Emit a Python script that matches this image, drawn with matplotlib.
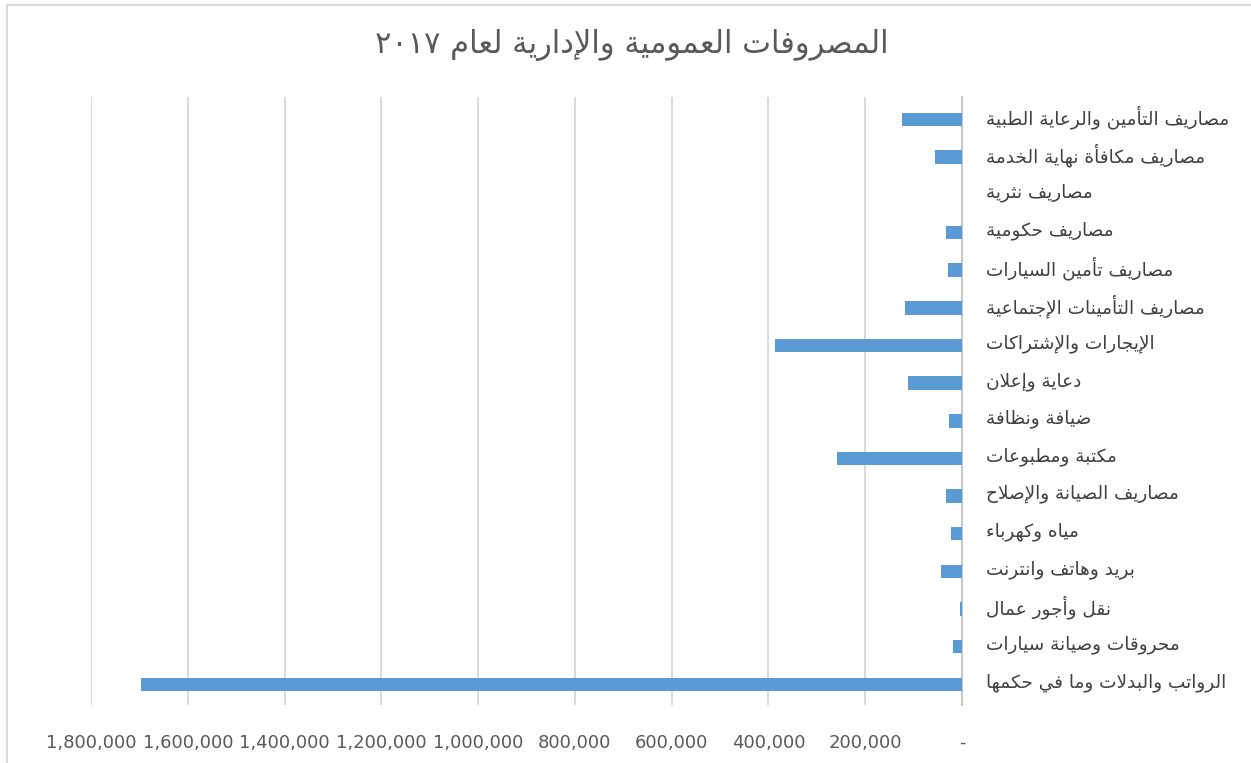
import re
import matplotlib
matplotlib.use("Agg")
import matplotlib.pyplot as plt
from matplotlib.lines import Line2D
from matplotlib.transforms import ScaledTranslation

# --- data (top to bottom, as in the chart) ---
categories = [
    "مصاريف التأمين والرعاية الطبية",
    "مصاريف مكافأة نهاية الخدمة",
    "مصاريف نثرية",
    "مصاريف حكومية",
    "مصاريف تأمين السيارات",
    "مصاريف التأمينات الإجتماعية",
    "الإيجارات والإشتراكات",
    "دعاية وإعلان",
    "ضيافة ونظافة",
    "مكتبة ومطبوعات",
    "مصاريف الصيانة والإصلاح",
    "مياه وكهرباء",
    "بريد وهاتف وانترنت",
    "نقل وأجور عمال",
    "محروقات وصيانة سيارات",
    "الرواتب والبدلات وما في حكمها",
]
values = [125000, 56000, 0, 34000, 28000, 118000, 386000, 112000,
          27000, 258000, 34000, 23000, 43000, 4000, 19000, 1696000]
xticks = [0, 200000, 400000, 600000, 800000, 1000000,
          1200000, 1400000, 1600000, 1800000]
title = "المصروفات العمومية والإدارية لعام ٢٠١٧"

# --- minimal arabic shaping (matplotlib has no bidi / shaping) ---
# letter -> (first presentation form, number of forms)
FORMS = {
    "ء": (0xFE80, 1), "آ": (0xFE81, 2), "أ": (0xFE83, 2), "ؤ": (0xFE85, 2),
    "إ": (0xFE87, 2), "ئ": (0xFE89, 4), "ا": (0xFE8D, 2), "ب": (0xFE8F, 4),
    "ة": (0xFE93, 2), "ت": (0xFE95, 4), "ث": (0xFE99, 4), "ج": (0xFE9D, 4),
    "ح": (0xFEA1, 4), "خ": (0xFEA5, 4), "د": (0xFEA9, 2), "ذ": (0xFEAB, 2),
    "ر": (0xFEAD, 2), "ز": (0xFEAF, 2), "س": (0xFEB1, 4), "ش": (0xFEB5, 4),
    "ص": (0xFEB9, 4), "ض": (0xFEBD, 4), "ط": (0xFEC1, 4), "ظ": (0xFEC5, 4),
    "ع": (0xFEC9, 4), "غ": (0xFECD, 4), "ف": (0xFED1, 4), "ق": (0xFED5, 4),
    "ك": (0xFED9, 4), "ل": (0xFEDD, 4), "م": (0xFEE1, 4), "ن": (0xFEE5, 4),
    "ه": (0xFEE9, 4), "و": (0xFEED, 2), "ى": (0xFEEF, 2), "ي": (0xFEF1, 4),
}
LAM_ALEF = {"آ": 0xFEF5, "أ": 0xFEF7, "إ": 0xFEF9, "ا": 0xFEFB}


def shape_word(word):
    # glue lam+alef into ligature tokens
    toks = []
    i = 0
    while i < len(word):
        c = word[i]
        if c == "ل" and i + 1 < len(word) and word[i + 1] in LAM_ALEF:
            toks.append(("LA", LAM_ALEF[word[i + 1]], 2))
            i += 2
            continue
        if c in FORMS:
            toks.append((c, FORMS[c][0], FORMS[c][1]))
        else:
            toks.append((c, None, 0))
        i += 1
    out = []
    for k, (c, base, n) in enumerate(toks):
        if base is None:
            out.append(c)
            continue
        prev_ok = k > 0 and toks[k - 1][2] == 4 and n >= 2
        next_ok = k + 1 < len(toks) and n == 4 and toks[k + 1][2] >= 2
        if prev_ok and next_ok:
            off = 3
        elif prev_ok:
            off = 1
        elif next_ok:
            off = 2
        else:
            off = 0
        out.append(chr(base + off))
    return "".join(out)


def ar(text):
    shaped = " ".join(shape_word(w) for w in text.split(" "))
    rev = shaped[::-1]
    return re.sub(r"[0-9٠-٩]+", lambda m: m.group(0)[::-1], rev)


def fmt(v):
    return "-" if v == 0 else "{:,}".format(v)


# --- plot ---
plt.rcParams["font.family"] = ["DejaVu Sans"]
fig = plt.figure(figsize=(12.51, 7.63), dpi=100)
ax = fig.add_axes([91 / 1251, 1 - 705 / 763, (962 - 91) / 1251, (705 - 97) / 763])

ypos = list(range(len(categories)))
ax.barh(ypos, values, height=0.36, color="#5b9bd5", zorder=3)

ax.set_xlim(1800000, 0)
ax.set_ylim(len(categories) - 0.45, -0.6)
ax.set_xticks(xticks)
ax.set_xticklabels([fmt(v) for v in xticks], fontsize=13, color="#595959")
ax.grid(axis="x", color="#d9d9d9", linewidth=1.4, zorder=0)
ax.tick_params(axis="x", length=0, pad=21)

ax.yaxis.tick_right()
ax.set_yticks(ypos)
ax.set_yticklabels([ar(c) for c in categories], fontsize=13.3, color="#404040",
                   ha="left")
ax.tick_params(axis="y", length=0, pad=17)
# nudge the arabic labels up a little so they sit level with the bars
for lab in ax.get_yticklabels():
    lab.set_transform(lab.get_transform() + ScaledTranslation(0, 3 / 72, fig.dpi_scale_trans))

for s in ["top", "bottom", "left"]:
    ax.spines[s].set_visible(False)
ax.spines["right"].set_color("#c8c8c8")
ax.spines["right"].set_linewidth(1.5)

fig.text(0.505, 1 - 45 / 763, ar(title), ha="center", va="center",
         fontsize=22, color="#595959")

# chart area border (only top and left visible in the crop)
fig.add_artist(Line2D([7 / 1251, 1], [1 - 5 / 763, 1 - 5 / 763],
                      transform=fig.transFigure, color="#d9d9d9", lw=1.5))
fig.add_artist(Line2D([7 / 1251, 7 / 1251], [0, 1 - 5 / 763],
                      transform=fig.transFigure, color="#d9d9d9", lw=1.5))

fig.savefig("out.png", dpi=100, facecolor="white")
